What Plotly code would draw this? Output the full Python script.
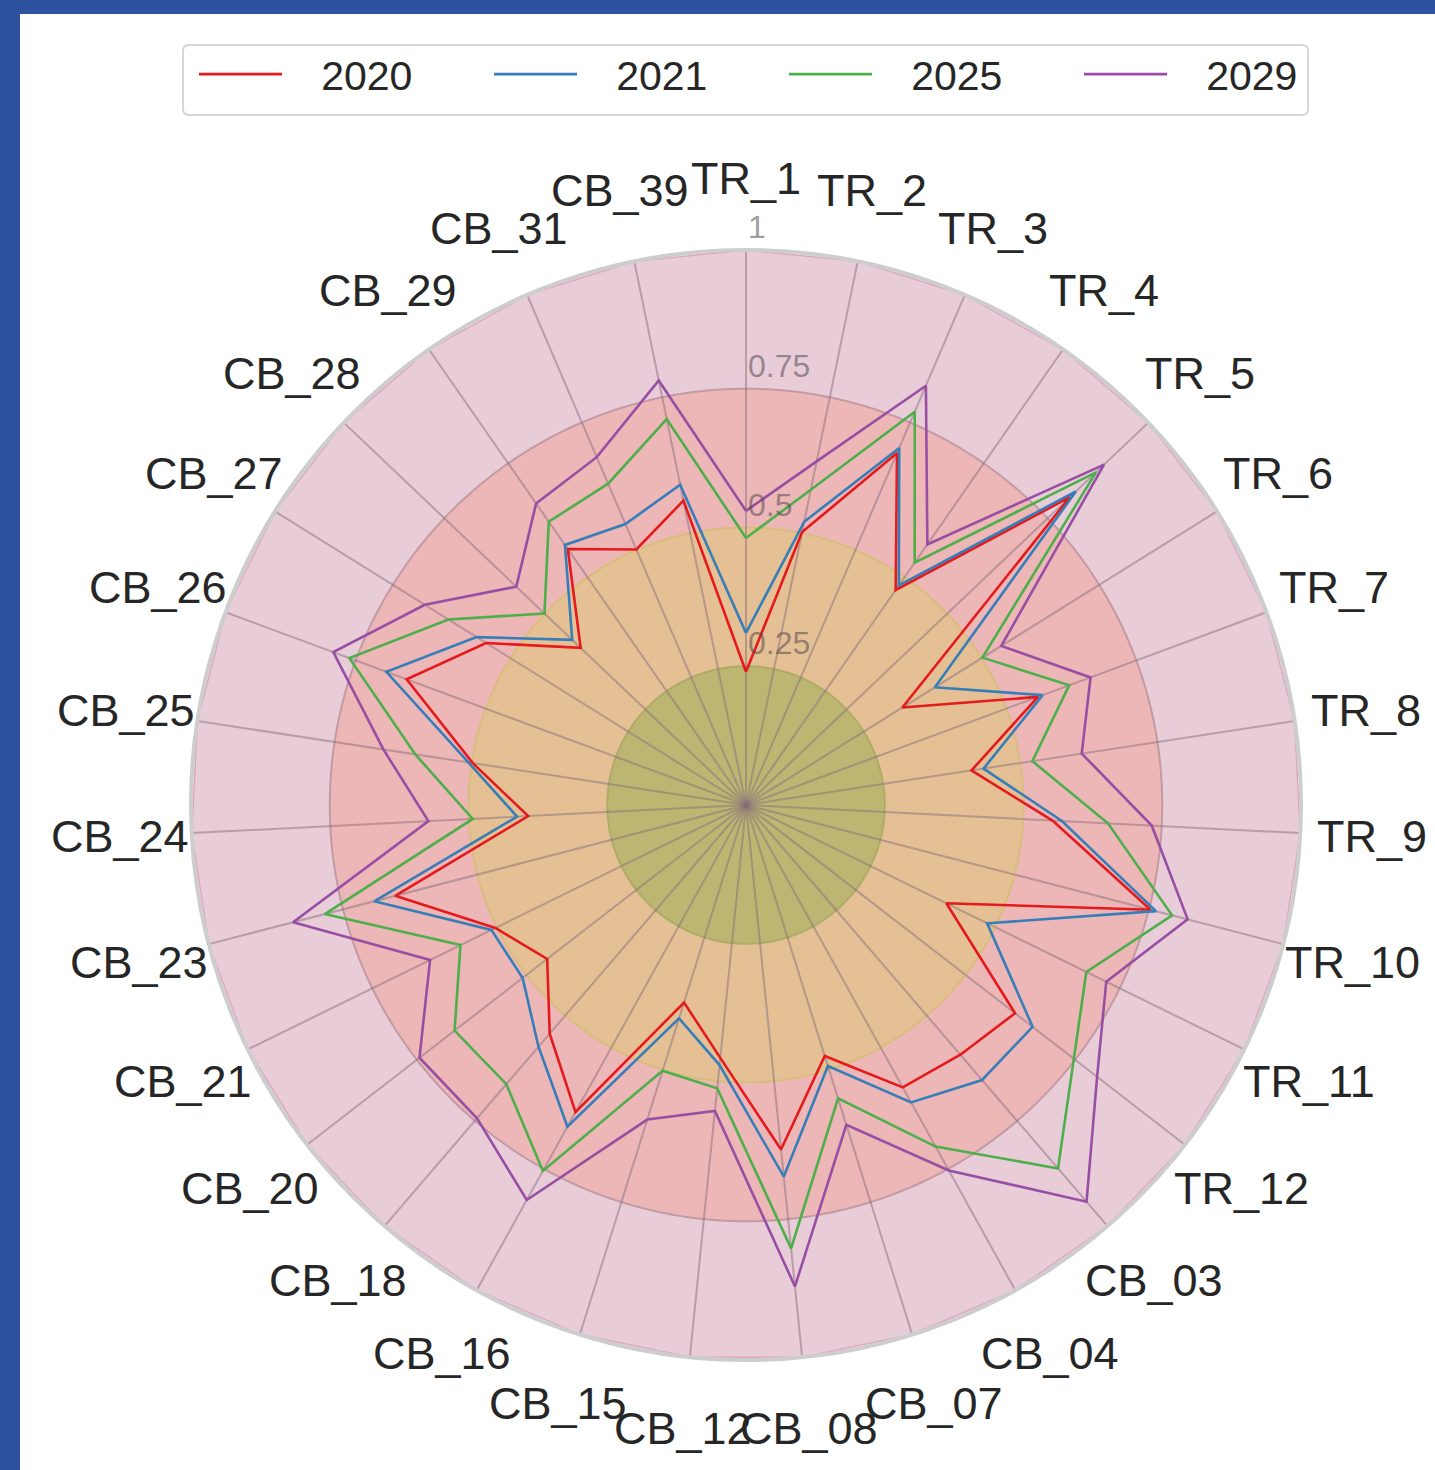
import numpy as np
import plotly.graph_objects as go

categories = ["TR_1", "TR_2", "TR_3", "TR_4", "TR_5", "TR_6", "TR_7", "TR_8", "TR_9", "TR_10",
              "TR_11", "TR_12", "CB_03", "CB_04", "CB_07", "CB_08", "CB_12", "CB_15", "CB_16",
              "CB_18", "CB_20", "CB_21", "CB_23", "CB_24", "CB_25", "CB_26", "CB_27", "CB_28",
              "CB_29", "CB_31", "CB_39"]

v2020 = [0.240, 0.502, 0.690, 0.472, 0.805, 0.332, 0.561, 0.411, 0.553, 0.753, 0.402, 0.613,
         0.593, 0.582, 0.474, 0.624, 0.458, 0.373, 0.633, 0.543, 0.453, 0.503, 0.653, 0.393,
         0.498, 0.652, 0.552, 0.411, 0.562, 0.501, 0.560]
v2021 = [0.310, 0.521, 0.700, 0.482, 0.820, 0.401, 0.570, 0.433, 0.570, 0.763, 0.484, 0.653,
         0.653, 0.613, 0.493, 0.673, 0.471, 0.403, 0.663, 0.574, 0.509, 0.511, 0.692, 0.413,
         0.506, 0.691, 0.572, 0.432, 0.571, 0.551, 0.589]
v2025 = [0.481, 0.580, 0.771, 0.532, 0.870, 0.502, 0.621, 0.522, 0.653, 0.793, 0.683, 0.747,
         0.863, 0.704, 0.554, 0.803, 0.513, 0.502, 0.754, 0.663, 0.664, 0.573, 0.784, 0.493,
         0.603, 0.762, 0.632, 0.501, 0.622, 0.630, 0.710]
v2029 = [0.530, 0.632, 0.822, 0.572, 0.890, 0.542, 0.662, 0.612, 0.732, 0.822, 0.723, 0.800,
         0.942, 0.753, 0.604, 0.872, 0.554, 0.594, 0.814, 0.744, 0.744, 0.634, 0.843, 0.573,
         0.661, 0.793, 0.682, 0.571, 0.662, 0.682, 0.781]

series_names = ["2020", "2021", "2025", "2029"]
series_values = [v2020, v2021, v2025, v2029]
series_colors = ["#E41A1C", "#377EB8", "#4DAF4A", "#984EA3"]

radial_ticks = [0.25, 0.5, 0.75, 1.0]
radial_ticktext = ["0.25", "0.5", "0.75", "1"]

# background bands (outer edge radius, fill, edge colour)
band_edges = [0.75, 0.5, 0.25]
band_fills = ["#EDB6B7", "#E5C095", "#BDB673"]
band_lines = ["rgba(190,150,160,0.9)", "rgba(215,190,120,0.9)", "rgba(170,170,100,0.9)"]
outer_fill = "#E8CDD9"

n = len(categories)
angles = [i * 360.0 / n for i in range(n)]

fig = go.Figure()

# outer polygon band at r = 1
fig.add_trace(go.Scatterpolar(
    r=[1.0] * n + [1.0], theta=angles + [angles[0]], mode="lines",
    fill="toself", fillcolor=outer_fill, line=dict(color="rgba(220,160,185,0.9)", width=1.5),
    showlegend=False, hoverinfo="skip"))

circ = list(np.linspace(0, 360, 361))
for rr, fc, lc in zip(band_edges, band_fills, band_lines):
    fig.add_trace(go.Scatterpolar(
        r=[rr] * len(circ), theta=circ, mode="lines", fill="toself", fillcolor=fc,
        line=dict(color=lc, width=2), showlegend=False, hoverinfo="skip"))

# spokes
sr, st = [], []
for a in angles:
    sr += [0, 1, None]
    st += [a, a, None]
fig.add_trace(go.Scatterpolar(r=sr, theta=st, mode="lines",
                              line=dict(color="rgba(135,110,122,0.5)", width=2),
                              showlegend=False, hoverinfo="skip"))

for name, vals, col in zip(series_names, series_values, series_colors):
    fig.add_trace(go.Scatterpolar(
        r=vals + [vals[0]], theta=angles + [angles[0]], mode="lines",
        name="\u00a0\u00a0\u00a0" + name,
        line=dict(color=col, width=2.6)))

W, H = 1435, 1470
cx, cy, R = 746, 805, 555
label_r = 627

annotations = []
for lab, a in zip(categories, angles):
    t = np.deg2rad(a)
    X = cx + label_r * np.sin(t)
    Y = cy - label_r * np.cos(t)
    annotations.append(dict(x=X / W, y=1 - Y / H, xref="paper", yref="paper", text=lab,
                            showarrow=False, xanchor="center", yanchor="middle",
                            font=dict(size=45, color="#262626")))
for rv, txt in zip(radial_ticks, radial_ticktext):
    Y = cy - rv * R - 3
    annotations.append(dict(x=cx / W, y=1 - Y / H, xref="paper", yref="paper", text=txt,
                            showarrow=False, xanchor="left", yanchor="bottom",
                            font=dict(size=32, color="rgba(80,70,75,0.55)")))

# legend frame (rounded rectangle)
lx0, lx1, ly0, ly1, rad = 183, 1308, 45, 115, 6
def px(x):
    return x / W
def py(y):
    return 1 - y / H
frame_path = (
    f"M {px(lx0 + rad)} {py(ly0)} L {px(lx1 - rad)} {py(ly0)} "
    f"Q {px(lx1)} {py(ly0)} {px(lx1)} {py(ly0 + rad)} L {px(lx1)} {py(ly1 - rad)} "
    f"Q {px(lx1)} {py(ly1)} {px(lx1 - rad)} {py(ly1)} L {px(lx0 + rad)} {py(ly1)} "
    f"Q {px(lx0)} {py(ly1)} {px(lx0)} {py(ly1 - rad)} L {px(lx0)} {py(ly0 + rad)} "
    f"Q {px(lx0)} {py(ly0)} {px(lx0 + rad)} {py(ly0)} Z"
)

fig.update_layout(
    width=W, height=H,
    margin=dict(l=0, r=0, t=0, b=0),
    paper_bgcolor="white",
    font=dict(family="Liberation Sans, Arial, sans-serif", color="#262626"),
    polar=dict(
        domain=dict(x=[(cx - R) / W, (cx + R) / W], y=[(H - cy - R) / H, (H - cy + R) / H]),
        bgcolor="white",
        angularaxis=dict(type="linear", thetaunit="degrees", direction="clockwise", rotation=90,
                         tickmode="array", tickvals=angles, ticktext=categories,
                         showticklabels=False,
                         showgrid=False, showline=True, linecolor="#CDCDCD", linewidth=4,
                         ticks=""),
        radialaxis=dict(range=[0, 1], angle=90, tickmode="array", tickvals=radial_ticks,
                        ticktext=radial_ticktext, showticklabels=False,
                        showgrid=False, showline=False, ticks=""),
    ),
    legend=dict(orientation="h", x=(199 - 5) / W, xanchor="left", y=1 - 41 / H, yanchor="top",
                borderwidth=0, bgcolor="rgba(0,0,0,0)",
                font=dict(size=41, color="#262626"), itemwidth=83,
                entrywidth=197, entrywidthmode="pixels"),
    annotations=annotations,
    shapes=[
        dict(type="path", xref="paper", yref="paper", path=frame_path,
             fillcolor="white", line=dict(color="#D6D6D6", width=2), layer="above"),
        dict(type="rect", xref="paper", yref="paper", x0=0, x1=1, y0=1 - 14 / H, y1=1,
             fillcolor="#2E52A0", line=dict(width=0), layer="above"),
        dict(type="rect", xref="paper", yref="paper", x0=0, x1=20 / W, y0=0, y1=1,
             fillcolor="#2E52A0", line=dict(width=0), layer="above"),
    ],
)

fig.write_html("out.html", config={"displayModeBar": False},
               post_script="document.body.style.margin='0px';")
